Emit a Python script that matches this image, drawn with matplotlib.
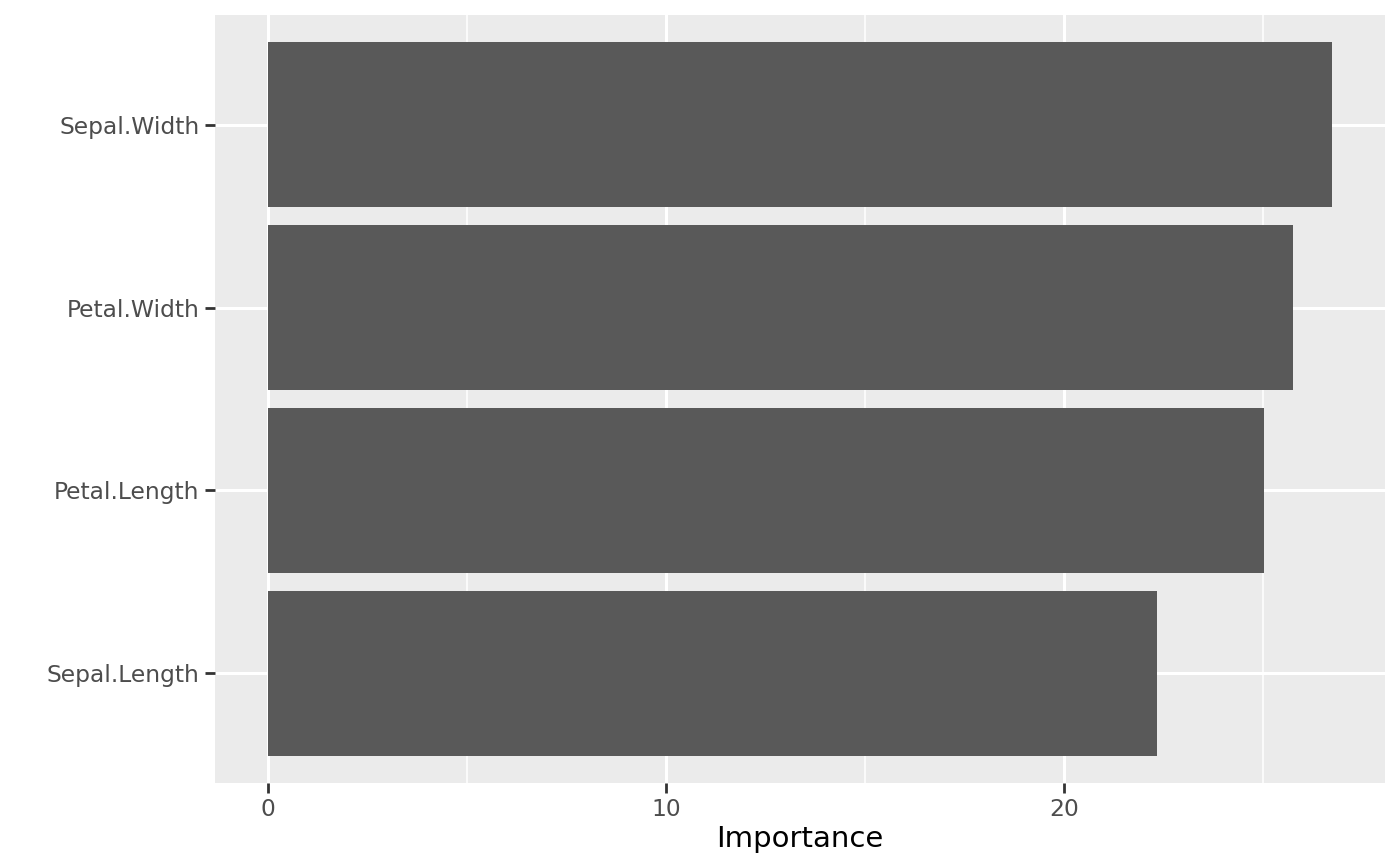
import matplotlib
matplotlib.use("Agg")
import matplotlib.pyplot as plt
import numpy as np

features = ['Sepal.Length', 'Petal.Length', 'Petal.Width', 'Sepal.Width']
importance = [22.34, 25.02, 25.76, 26.73]

fig = plt.figure(figsize=(14, 8.66), dpi=100)
ax = fig.add_axes([215/1400, 83/866, 1170/1400, 768/866])

y = np.arange(1, len(features) + 1)
ax.barh(y, importance, height=0.9, color='#595959', zorder=3)

xmax = max(importance)
pad = 0.05 * xmax
ax.set_xlim(-pad, xmax + pad)
ax.set_ylim(0.4, len(features) + 0.6)

ax.set_facecolor('#EBEBEB')
for s in ax.spines.values():
    s.set_visible(False)

ax.set_xticks([0, 10, 20])
ax.set_xticks([5, 15, 25], minor=True)
ax.set_yticks(y)
ax.set_yticklabels(features)
ax.grid(which='major', color='white', linewidth=2.2, zorder=1)
ax.grid(which='minor', axis='x', color='white', linewidth=1.1, zorder=1)
ax.tick_params(which='major', length=7, width=2, color='#333333',
               labelcolor='#4D4D4D', labelsize=16.8, pad=4)
ax.tick_params(which='minor', length=0)

ax.set_xlabel('Importance', fontsize=21, color='black', labelpad=3)

fig.savefig('out.png', dpi=100)
